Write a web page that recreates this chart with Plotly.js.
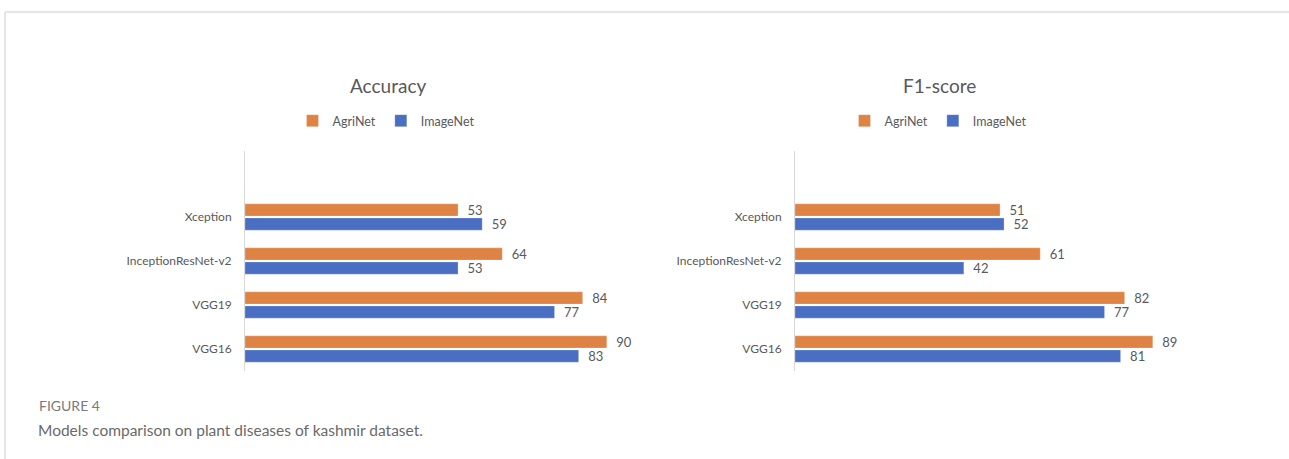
<!DOCTYPE html>
<html>
<head>
<meta charset="utf-8">
<script src="https://cdn.plot.ly/plotly-3.0.1.min.js"></script>
<style>html,body{margin:0;padding:0;background:#fff;}#chart{width:1289px;height:459px;}</style>
</head>
<body>
<div id="chart"></div>
<script>
// Data (categories listed bottom-to-top)
var models = ['VGG16', 'VGG19', 'InceptionResNet-v2', 'Xception'];
var accuracyAgriNet = [90, 84, 64, 53];
var accuracyImageNet = [83, 77, 53, 59];
var f1AgriNet = [89, 82, 61, 51];
var f1ImageNet = [81, 77, 42, 52];
var seriesNames = ['AgriNet', 'ImageNet'];
var chartTitles = ['Accuracy', 'F1-score'];
var figureLabel = 'FIGURE 4';
var caption = 'Models comparison on plant diseases of kashmir dataset.';

var ORANGE = '#DF8344', BLUE = '#4A6FC2', GRAY = '#595959';
var FONT = 'Lato, "Open Sans", sans-serif';

function barTrace(vals, name, color, xa, ya, leg, offset) {
  return {
    type: 'bar', orientation: 'h', y: models, x: vals, name: name,
    xaxis: xa, yaxis: ya, legend: leg,
    marker: {color: color, line: {color: 'rgba(255,255,255,0.5)', width: 0.5}},
    width: 0.28, offset: offset,
    text: vals.map(String), texttemplate: '\u2002%{text}',
    textposition: 'outside', constraintext: 'none',
    cliponaxis: false,
    textfont: {family: FONT, size: 13, color: GRAY},
    hoverinfo: 'x+y'
  };
}

var data = [
  barTrace(accuracyAgriNet, seriesNames[0], ORANGE, 'x', 'y', 'legend', 0.02),
  barTrace(accuracyImageNet, seriesNames[1], BLUE, 'x', 'y', 'legend', -0.30),
  barTrace(f1AgriNet, seriesNames[0], ORANGE, 'x2', 'y2', 'legend2', 0.02),
  barTrace(f1ImageNet, seriesNames[1], BLUE, 'x2', 'y2', 'legend2', -0.30)
];

var W = 1289, H = 459;
function px(x) { return x / W; }
function py(y) { return (H - y) / H; }

var yaxisBase = {
  type: 'category', categoryarray: models, categoryorder: 'array',
  range: [-0.5, 4.5], showline: true, linecolor: '#d9d9d9', linewidth: 1,
  showgrid: false, zeroline: false, ticks: '', ticklabelstandoff: 10,
  tickfont: {family: FONT, size: 12, color: GRAY},
  domain: [py(371), py(151)], fixedrange: true
};

var legendBase = {orientation: 'h', xanchor: 'center', yanchor: 'middle',
  font: {family: FONT, size: 12.5, color: GRAY}, itemwidth: 30, traceorder: 'normal'};

var layout = {
  width: W, height: H,
  margin: {l: 0, r: 0, t: 0, b: 0},
  paper_bgcolor: '#fff', plot_bgcolor: '#fff',
  barmode: 'overlay',
  font: {family: FONT, color: GRAY},
  xaxis: {domain: [px(245), px(647)], range: [0, 100], visible: false, fixedrange: true},
  xaxis2: {domain: [px(795), px(1197)], range: [0, 100], visible: false, fixedrange: true, anchor: 'y2'},
  yaxis: Object.assign({}, yaxisBase, {anchor: 'x'}),
  yaxis2: Object.assign({}, yaxisBase, {anchor: 'x2'}),
  legend: Object.assign({}, legendBase, {x: px(386), y: py(121)}),
  legend2: Object.assign({}, legendBase, {x: px(938), y: py(121)}),
  showlegend: true,
  annotations: [
    {text: chartTitles[0], xref: 'paper', yref: 'paper', x: px(388), y: py(85),
     xanchor: 'center', yanchor: 'middle', showarrow: false,
     font: {family: FONT, size: 19, color: GRAY}},
    {text: chartTitles[1], xref: 'paper', yref: 'paper', x: px(940), y: py(85),
     xanchor: 'center', yanchor: 'middle', showarrow: false,
     font: {family: FONT, size: 19, color: GRAY}},
    {text: figureLabel, xref: 'paper', yref: 'paper', x: px(37), y: py(405),
     xanchor: 'left', yanchor: 'middle', showarrow: false,
     font: {family: FONT, size: 14, color: '#7a7a7a'}},
    {text: caption, xref: 'paper', yref: 'paper', x: px(36), y: py(430),
     xanchor: 'left', yanchor: 'middle', showarrow: false,
     font: {family: FONT, size: 15.5, color: '#6a6a6a'}}
  ],
  shapes: [
    {type: 'line', xref: 'paper', yref: 'paper', x0: px(5), x1: 1, y0: py(12), y1: py(12),
     line: {color: '#dcdcdc', width: 1.5}},
    {type: 'line', xref: 'paper', yref: 'paper', x0: px(5), x1: px(5), y0: 0, y1: py(12),
     line: {color: '#dcdcdc', width: 1.5}}
  ]
};

Plotly.newPlot('chart', data, layout, {displayModeBar: false, staticPlot: true});
</script>
</body>
</html>
